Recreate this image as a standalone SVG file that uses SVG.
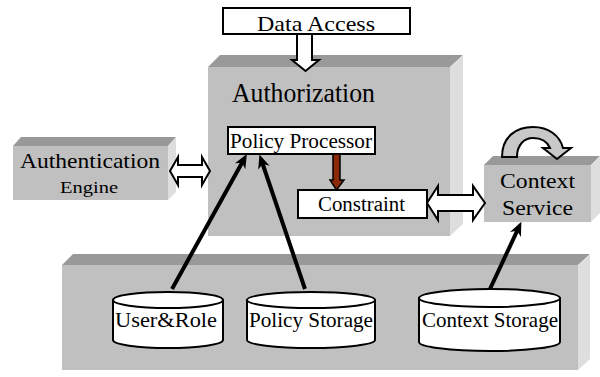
<svg xmlns="http://www.w3.org/2000/svg" width="600" height="377" viewBox="0 0 600 377">
  <style>
    .front { fill: #c0c0c0; }
    .top { fill: #999999; }
    .side { fill: #dedede; }
    .box { fill: #ffffff; stroke: #000000; stroke-width: 2; }
    .hollow { fill: #ffffff; stroke: #000000; stroke-width: 2; stroke-linejoin: miter; }
    .link { stroke: #000000; stroke-width: 4; fill: none; }
  </style>
  <defs>
    <marker id="head" viewBox="0 0 14 12" markerUnits="userSpaceOnUse" markerWidth="14" markerHeight="12" refX="6" refY="6" orient="auto">
      <path d="M0,0 L14,6 L0,12 L4,6 Z" fill="#000000"/>
    </marker>
  </defs>

  <rect x="0" y="0" width="600" height="377" fill="#ffffff"/>

  <!-- lower storage layer -->
  <g id="storage-layer">
    <polygon class="top" points="62,265 73,254 590,254 578,265"/>
    <polygon class="side" points="578,265 590,254 590,359 578,370"/>
    <rect class="front" x="62" y="265" width="516" height="105"/>
  </g>

  <!-- authorization block -->
  <g id="authorization">
    <polygon class="top" points="208,67 220,55 463,55 450,67"/>
    <polygon class="side" points="450,67 463,55 463,224 450,236"/>
    <rect class="front" x="208" y="67" width="242" height="169"/>
    <text x="232" y="102" font-family="Liberation Serif, serif" font-size="27" textLength="143" lengthAdjust="spacingAndGlyphs">Authorization</text>
  </g>

  <!-- authentication engine -->
  <g id="authentication-engine">
    <polygon class="top" points="13,146 21,137 176,137 168,146"/>
    <polygon class="side" points="168,146 176,137 176,192 168,200"/>
    <rect class="front" x="13" y="146" width="155" height="54"/>
    <text x="20" y="168" font-family="Liberation Serif, serif" font-size="21" textLength="140" lengthAdjust="spacingAndGlyphs">Authentication</text>
    <text x="60" y="193" font-family="Liberation Serif, serif" font-size="17" textLength="58" lengthAdjust="spacingAndGlyphs">Engine</text>
  </g>

  <!-- context service -->
  <g id="context-service">
    <polygon class="top" points="484,165 493,156 600,156 591,165"/>
    <polygon class="side" points="591,165 600,156 600,213 591,222"/>
    <rect class="front" x="484" y="165" width="107" height="57"/>
    <text x="500" y="188" font-family="Liberation Serif, serif" font-size="21" textLength="75" lengthAdjust="spacingAndGlyphs">Context</text>
    <text x="502" y="215" font-family="Liberation Serif, serif" font-size="21" textLength="71" lengthAdjust="spacingAndGlyphs">Service</text>
    <!-- self-refresh loop arrow -->
    <path d="M502,157 C502,136 517,127 533,127 C549,127 560,136 563,148 L571,148 L557,159 L543,148 L550,148 C547,141 541,138 533,138 C524,138 517,145 517,157 Z" fill="#c8c8c8" stroke="#000000" stroke-width="2" stroke-linejoin="miter"/>
  </g>

  <!-- data access -->
  <g id="data-access">
    <rect class="box" x="223" y="8" width="187" height="26"/>
    <text x="257" y="31" font-family="Liberation Serif, serif" font-size="21" textLength="118" lengthAdjust="spacingAndGlyphs">Data Access</text>
  </g>

  <!-- policy processor -->
  <g id="policy-processor">
    <rect class="box" x="228" y="127" width="147" height="27"/>
    <text x="230" y="148" font-family="Liberation Serif, serif" font-size="20" textLength="142" lengthAdjust="spacingAndGlyphs">Policy Processor</text>
  </g>

  <!-- constraint -->
  <g id="constraint">
    <rect class="box" x="298" y="190" width="129" height="28"/>
    <text x="318" y="211" font-family="Liberation Serif, serif" font-size="20" textLength="87" lengthAdjust="spacingAndGlyphs">Constraint</text>
  </g>

  <!-- storage cylinders -->
  <g id="user-role">
    <path d="M113,300 L113,340 A55,8 0 0 0 223,340 L223,300 Z" class="box"/>
    <ellipse cx="168" cy="300" rx="55" ry="8" class="box"/>
    <text x="115" y="327" font-family="Liberation Serif, serif" font-size="21" textLength="102" lengthAdjust="spacingAndGlyphs">User&amp;Role</text>
  </g>
  <g id="policy-storage">
    <path d="M247,300 L247,340 A64,8 0 0 0 375,340 L375,300 Z" class="box"/>
    <ellipse cx="311" cy="300" rx="64" ry="8" class="box"/>
    <text x="249" y="327" font-family="Liberation Serif, serif" font-size="21" textLength="124" lengthAdjust="spacingAndGlyphs">Policy Storage</text>
  </g>
  <g id="context-storage">
    <path d="M419,298 L419,342 A70.5,9 0 0 0 560,342 L560,298 Z" class="box"/>
    <ellipse cx="489.5" cy="298" rx="70.5" ry="9" class="box"/>
    <text x="422" y="327" font-family="Liberation Serif, serif" font-size="21" textLength="136" lengthAdjust="spacingAndGlyphs">Context Storage</text>
  </g>

  <!-- connectors -->
  <g id="connectors">
    <!-- data access into authorization -->
    <polygon class="hollow" points="297,34 312,34 312,60 319,60 305.5,71 292,60 297,60"/>
    <!-- authentication engine <-> authorization -->
    <polygon class="hollow" points="170,171 178,157 178,165 202,165 202,157 210,171 202,185 202,177 178,177 178,185"/>
    <!-- constraint <-> context service -->
    <polygon class="hollow" points="427,203 438,186 438,195 473,195 473,186 485,203 473,220 473,211 438,211 438,220"/>
    <!-- policy processor to constraint -->
    <polygon points="333,154 340,154 340,180 344,180 336.5,190 330,180 333,180" fill="#8b2a08" stroke="#000000" stroke-width="1.5"/>
    <!-- storage to consumers -->
    <line class="link" x1="172" y1="289" x2="243" y2="161" marker-end="url(#head)"/>
    <line class="link" x1="305" y1="289" x2="262" y2="162" marker-end="url(#head)"/>
    <line class="link" x1="490" y1="289" x2="518" y2="229" marker-end="url(#head)"/>
  </g>
</svg>
